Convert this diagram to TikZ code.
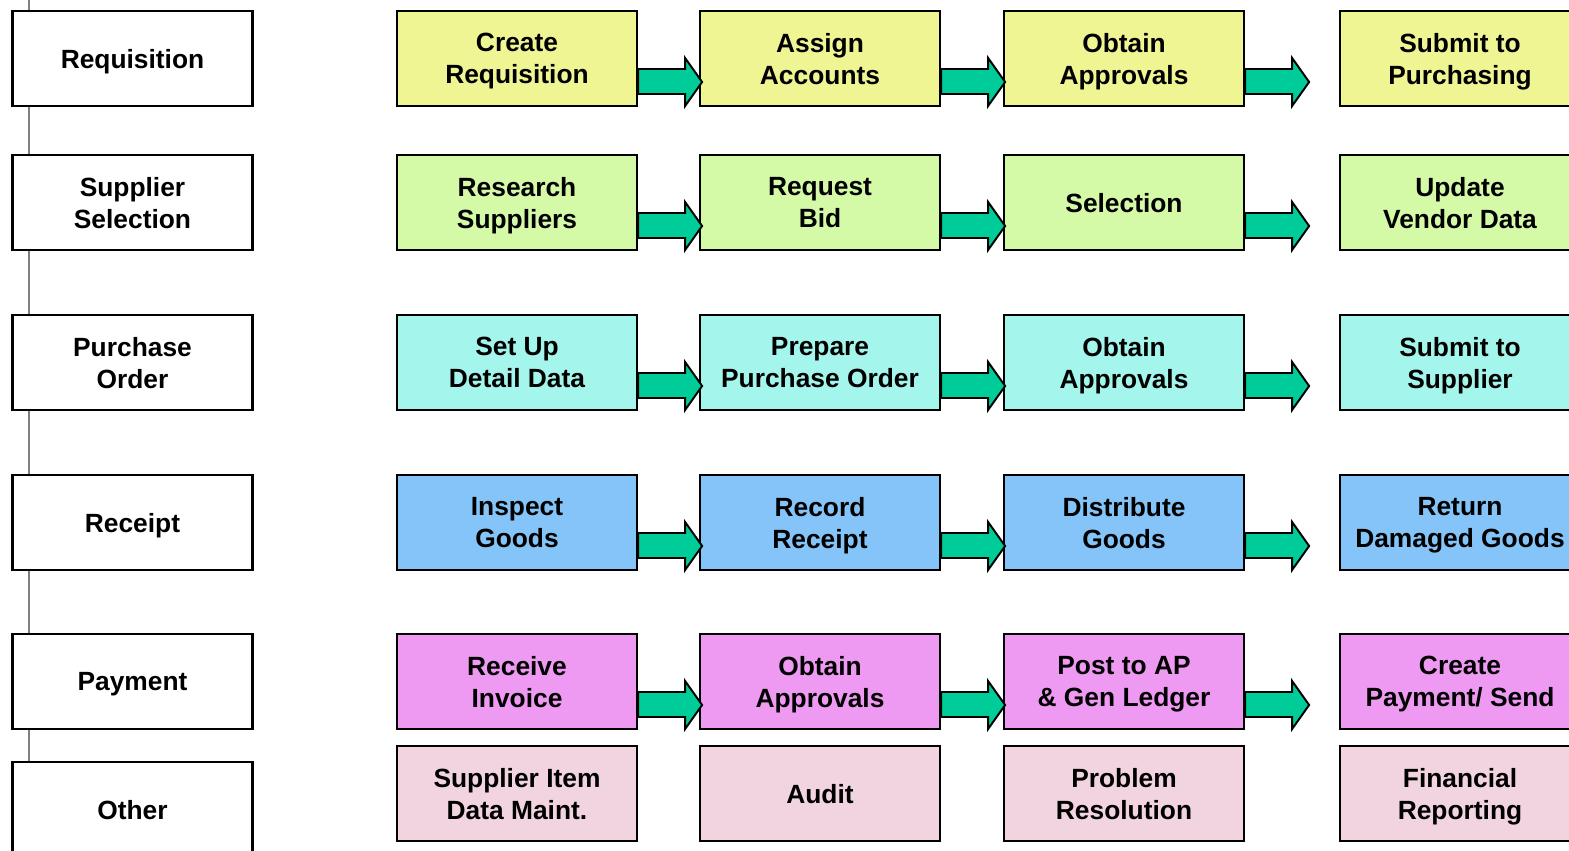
\documentclass[tikz,border=0pt]{standalone}
\usepackage{fontspec}
\setmainfont{Liberation Sans}
\usetikzlibrary{backgrounds}
\definecolor{reqfill}{HTML}{F0F594}
\definecolor{selfill}{HTML}{D4FAA8}
\definecolor{pofill}{HTML}{A4F5EC}
\definecolor{recfill}{HTML}{84C4F8}
\definecolor{payfill}{HTML}{EE99F2}
\definecolor{othfill}{HTML}{F2D4E0}
\definecolor{flowgreen}{HTML}{00CC99}
\tikzset{
  stagebox/.style={draw=black,fill=white,line width=1.3pt,minimum width=4.8cm,minimum height=1.9cm,
    align=center,font=\fontsize{15}{18.2}\selectfont\bfseries,inner sep=2pt,text depth=-2.6pt},
  taskbox/.style={stagebox,fill=#1},
  flowarrow/.style={draw=black,fill=flowgreen,line width=1.1pt,line join=miter},
  spine/.style={draw=black!50,line width=1.1pt}
}
% fat arrow leaving the east side of a box
\newcommand{\flowto}[1]{%
  \begin{scope}[shift={(#1.east)}]
    \draw[flowarrow] (0,10.5) -- (47,10.5) -- (47,-0.5) -- (64,23.5) -- (47,47.5) -- (47,35.5) -- (0,35.5) -- cycle;
  \end{scope}}

\begin{document}
\begin{tikzpicture}[x=0.02cm,y=-0.02cm]
  \clip (0,0) rectangle (1569,851);

  % stage labels
  \node[stagebox] (req) at (132.5,58.5) {Requisition};
  \node[stagebox] (sel) at (132.5,202.5) {Supplier\\Selection};
  \node[stagebox] (po)  at (132.5,362.5) {Purchase\\Order};
  \node[stagebox] (rec) at (132.5,522.5) {Receipt};
  \node[stagebox] (pay) at (132.5,681.5) {Payment};
  \node[stagebox] (oth) at (132.5,809.5) {Other};

  % requisition
  \node[taskbox=reqfill] (req1) at (517,58.5) {Create\\Requisition};
  \node[taskbox=reqfill] (req2) at (820,58.5) {Assign\\Accounts};
  \node[taskbox=reqfill] (req3) at (1124,58.5) {Obtain\\Approvals};
  \node[taskbox=reqfill] (req4) at (1460,58.5) {Submit to\\Purchasing};

  % supplier selection
  \node[taskbox=selfill] (sel1) at (517,202.5) {Research\\Suppliers};
  \node[taskbox=selfill] (sel2) at (820,202.5) {Request\\Bid};
  \node[taskbox=selfill] (sel3) at (1124,202.5) {Selection};
  \node[taskbox=selfill] (sel4) at (1460,202.5) {Update\\Vendor Data};

  % purchase order
  \node[taskbox=pofill] (po1) at (517,362.5) {Set Up\\Detail Data};
  \node[taskbox=pofill] (po2) at (820,362.5) {Prepare\\Purchase Order};
  \node[taskbox=pofill] (po3) at (1124,362.5) {Obtain\\Approvals};
  \node[taskbox=pofill] (po4) at (1460,362.5) {Submit to\\Supplier};

  % receipt
  \node[taskbox=recfill] (rec1) at (517,522.5) {Inspect\\Goods};
  \node[taskbox=recfill] (rec2) at (820,522.5) {Record\\Receipt};
  \node[taskbox=recfill] (rec3) at (1124,522.5) {Distribute\\Goods};
  \node[taskbox=recfill] (rec4) at (1460,522.5) {Return\\Damaged Goods};

  % payment
  \node[taskbox=payfill] (pay1) at (517,681.5) {Receive\\Invoice};
  \node[taskbox=payfill] (pay2) at (820,681.5) {Obtain\\Approvals};
  \node[taskbox=payfill] (pay3) at (1124,681.5) {Post to AP\\\& Gen Ledger};
  \node[taskbox=payfill] (pay4) at (1460,681.5) {Create\\Payment/ Send};

  % other
  \node[taskbox=othfill] (oth1) at (517,793.5) {Supplier Item\\Data Maint.};
  \node[taskbox=othfill] (oth2) at (820,793.5) {Audit};
  \node[taskbox=othfill] (oth3) at (1124,793.5) {Problem\\Resolution};
  \node[taskbox=othfill] (oth4) at (1460,793.5) {Financial\\Reporting};

  \foreach \r in {req,sel,po,rec,pay}
    \foreach \c in {1,2,3}
      \flowto{\r\c};

  % line joining the stages
  \coordinate (spinetop) at (29,0);
  \begin{scope}[on background layer]
    \draw[spine] (spinetop) -- (spinetop |- oth.north);
  \end{scope}
\end{tikzpicture}
\end{document}
